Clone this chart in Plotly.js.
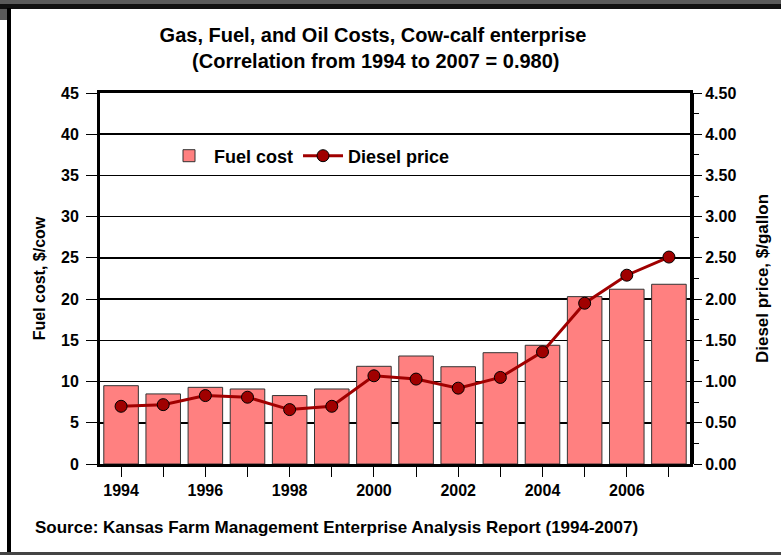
<!DOCTYPE html>
<html>
<head>
<meta charset="utf-8">
<script src="https://cdn.plot.ly/plotly-3.0.1.min.js"></script>
<style>
html,body{margin:0;padding:0;background:#fff;}
#chart{width:781px;height:555px;}
</style>
</head>
<body>
<div id="chart"></div>
<script>
const years = [1994,1995,1996,1997,1998,1999,2000,2001,2002,2003,2004,2005,2006,2007];
const fuelCost = [9.5,8.5,9.3,9.1,8.3,9.1,11.85,13.1,11.8,13.5,14.4,20.3,21.2,21.8];
const dieselPrice = [0.70,0.72,0.83,0.81,0.66,0.70,1.07,1.03,0.92,1.05,1.36,1.95,2.29,2.51];
const xTickLabels = ['1994','','1996','','1998','','2000','','2002','','2004','','2006',''];
const leftTicks = [0,5,10,15,20,25,30,35,40,45];
const leftTickLabels = ['0','5','10','15','20','25','30','35','40','45'];
const rightTicks = [0,0.5,1,1.5,2,2.5,3,3.5,4,4.5];
const rightTickLabels = ['0.00','0.50','1.00','1.50','2.00','2.50','3.00','3.50','4.00','4.50'];

const W = 781, H = 555;
const L = 100, R = 690, T = 93, B = 464;
const px = x => (x - L) / (R - L);
const py = y => (B - y) / (B - T);
const FONT = 'Liberation Sans, Arial, sans-serif';
const bold = s => s === '' ? '' : '<b>' + s + '</b>';

const traces = [
  {
    type: 'bar', name: bold('Fuel cost'), x: years, y: fuelCost,
    width: 0.82,
    marker: {color: '#FF8080', line: {color: '#333333', width: 1}},
    yaxis: 'y'
  },
  {
    type: 'scatter', mode: 'lines+markers', name: bold('Diesel price'),
    x: years, y: dieselPrice, yaxis: 'y2',
    line: {color: '#A00000', width: 3},
    marker: {symbol: 'circle', size: 12, color: '#A00000', line: {color: '#000', width: 1}}
  }
];

const tf = {family: FONT, size: 16, color: '#000', weight: 700};

const layout = {
  width: W, height: H,
  margin: {l: L, r: W - R, t: T, b: H - B},
  paper_bgcolor: '#fff', plot_bgcolor: '#fff',
  font: {family: FONT, color: '#000', size: 16},
  title: {
    text: '<b>Gas, Fuel, and Oil Costs, Cow-calf enterprise<br> (Correlation from 1994 to 2007 = 0.980)</b>',
    font: {family: FONT, size: 20, color: '#000'},
    x: 373 / W, xanchor: 'center', xref: 'container',
    y: 1 - 42 / H, yanchor: 'middle', yref: 'container'
  },
  showlegend: true,
  legend: {
    orientation: 'h', x: px(164), y: py(156), xanchor: 'left', yanchor: 'middle',
    bgcolor: 'rgba(0,0,0,0)', font: {family: FONT, size: 18, color: '#000'},
    itemwidth: 40, traceorder: 'normal'
  },
  xaxis: {
    range: [1993.5, 2007.5], tickvals: years, ticktext: xTickLabels.map(bold),
    ticks: 'outside', ticklen: 10, tickcolor: '#000', tickwidth: 1,
    showgrid: false, zeroline: false,
    showline: true, linecolor: '#000', linewidth: 3, mirror: true,
    tickfont: tf,
    fixedrange: true
  },
  yaxis: {
    range: [0, 45], tickvals: leftTicks, ticktext: leftTickLabels.map(bold),
    ticks: 'outside', ticklen: 11, tickcolor: '#000', tickwidth: 1,
    ticklabelstandoff: 4,
    showgrid: true, gridcolor: '#000', gridwidth: 1.5,
    zeroline: false, showline: true, linecolor: '#000', linewidth: 3, mirror: true,
    tickfont: tf,
    title: {text: bold('Fuel cost, $/cow'), font: {family: FONT, size: 16, color: '#000'}, standoff: 12},
    fixedrange: true
  },
  yaxis2: {
    overlaying: 'y', side: 'right', range: [0, 4.5],
    tickvals: rightTicks, ticktext: rightTickLabels.map(bold),
    ticks: 'outside', ticklen: 8, tickcolor: '#000', tickwidth: 1,
    minor: {dtick: 0.25, ticks: 'outside', ticklen: 5, tickcolor: '#000', tickwidth: 1, showgrid: false},
    showgrid: false, zeroline: false, showline: true, linecolor: '#000', linewidth: 4,
    tickfont: tf,
    title: {text: bold('Diesel price, $/gallon'), font: {family: FONT, size: 17, color: '#000'}, standoff: 22},
    fixedrange: true
  },
  annotations: [
    {
      text: bold('Source: Kansas Farm Management Enterprise Analysis Report (1994-2007)'),
      xref: 'paper', yref: 'paper', x: px(33), y: py(527), xanchor: 'left', yanchor: 'middle',
      showarrow: false, font: {family: FONT, size: 17, color: '#000'}
    }
  ],
  shapes: [
    {type: 'rect', xref: 'paper', yref: 'paper', x0: px(0), x1: px(781), y0: py(0), y1: py(4), fillcolor: '#5a5a5a', line: {width: 0}, layer: 'above'},
    {type: 'rect', xref: 'paper', yref: 'paper', x0: px(0), x1: px(781), y0: py(4), y1: py(9), fillcolor: '#111', line: {width: 0}, layer: 'above'},
    {type: 'rect', xref: 'paper', yref: 'paper', x0: px(0), x1: px(7), y0: py(9), y1: py(20), fillcolor: '#5a5a5a', line: {width: 0}, layer: 'above'},
    {type: 'rect', xref: 'paper', yref: 'paper', x0: px(7), x1: px(11), y0: py(8), y1: py(552), fillcolor: '#000', line: {width: 0}, layer: 'above'},
    {type: 'rect', xref: 'paper', yref: 'paper', x0: px(0), x1: px(781), y0: py(552), y1: py(555), fillcolor: '#444', line: {width: 0}, layer: 'above'}
  ]
};

Plotly.newPlot('chart', traces, layout, {displayModeBar: false, staticPlot: true});
</script>
</body>
</html>
